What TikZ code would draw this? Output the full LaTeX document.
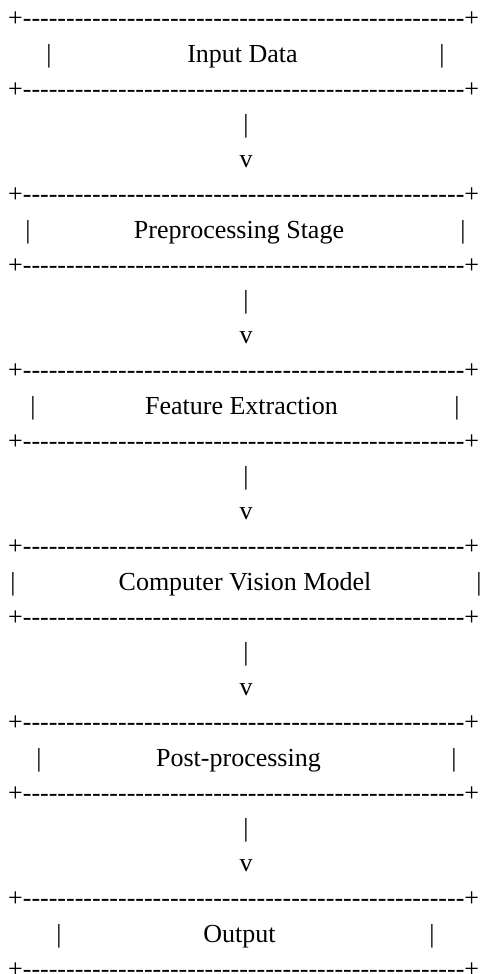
\documentclass[tikz,border=0pt]{standalone}
\usepackage{fontspec}
\setmainfont{Liberation Serif}
\newcommand\hy{-\kern0pt }
\newcommand\hyten{\hy\hy\hy\hy\hy\hy\hy\hy\hy\hy}
\newcommand\borderline{+\hyten\hyten\hyten\hyten\hyten\hy+}
\begin{document}
\begin{tikzpicture}[x=1pt,y=1pt,
  every node/.style={inner sep=0pt, outer sep=0pt, text=black, font=\fontsize{26}{30}\selectfont},
  ascii/.style={anchor=base},
  border/.style={anchor=base west}]
\useasboundingbox (0,0) rectangle (483,974);
\foreach \k/\txt/\lx/\rx/\cx in {0/Input Data/49/442/242.5,
  1/Preprocessing Stage/28/463/239,
  2/Feature Extraction/33/457/241.5,
  3/Computer Vision Model/13/479/245,
  4/Post-processing/39/454/238.5,
  5/Output/59/432/239.5}
{
  \pgfmathsetmacro\yt{947-35.2*5*\k}
  \node[border] (top\k) at (8.2,\yt) {\borderline};
  \node[ascii] (lp\k) at (\lx,\yt-35.2) {|};
  \node[ascii] (txt\k) at (\cx,\yt-35.2) {\txt};
  \node[ascii] (rp\k) at (\rx,\yt-35.2) {|};
  \node[border] (bot\k) at (8.2,\yt-70.4) {\borderline};
  \ifnum\k<5
    \node[ascii] (bar\k) at (246,\yt-105.6) {|};
    \node[ascii] (arr\k) at (246,\yt-140.8) {v};
  \fi
}
\end{tikzpicture}
\end{document}
